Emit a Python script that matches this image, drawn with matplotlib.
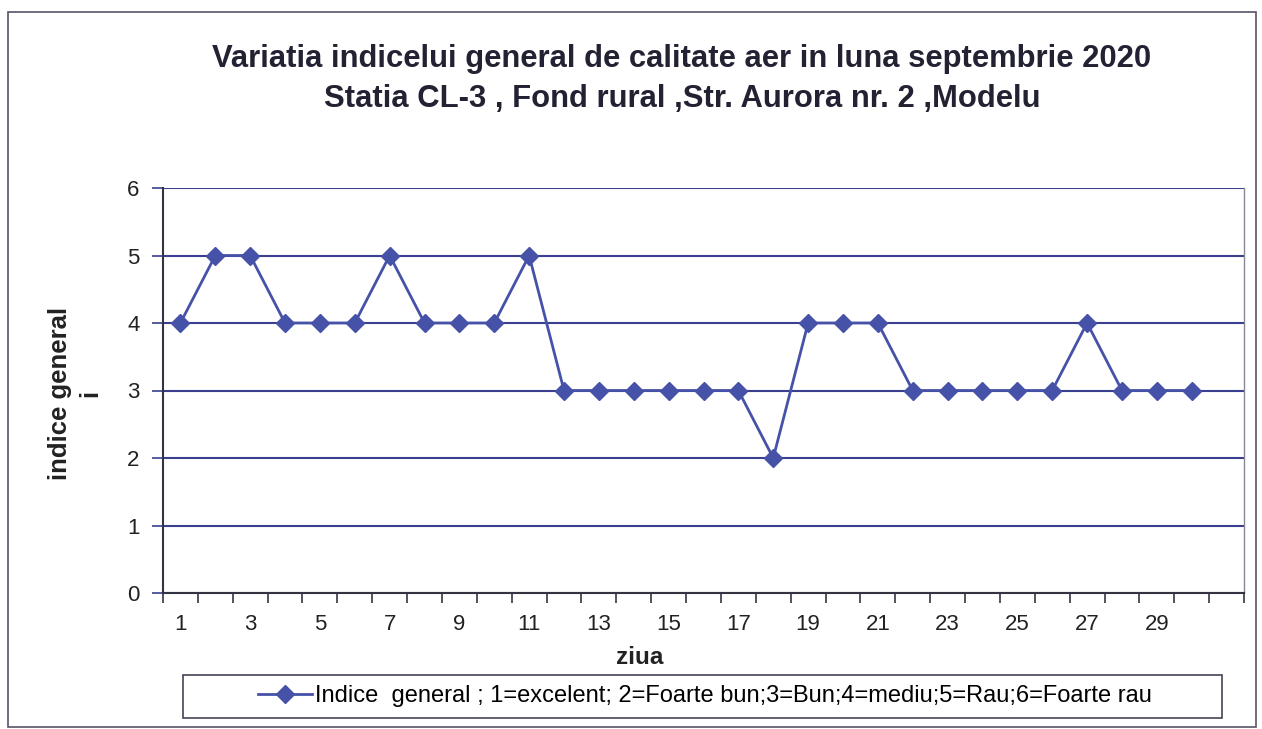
import matplotlib
matplotlib.use("Agg")
import matplotlib.pyplot as plt
from matplotlib.patches import Rectangle

plt.rcParams['font.family'] = ['Liberation Sans', 'DejaVu Sans']

days = list(range(1, 31))
indice = [4, 5, 5, 4, 4, 4, 5, 4, 4, 4, 5, 3, 3, 3, 3, 3, 3, 2, 4, 4, 4, 3, 3, 3, 3, 3, 4, 3, 3, 3]
n_categories = 31
xtick_labels = [str(d) for d in range(1, 30, 2)]
yticks = [0, 1, 2, 3, 4, 5, 6]

title = "Variatia indicelui general de calitate aer in luna septembrie 2020\nStatia CL-3 , Fond rural ,Str. Aurora nr. 2 ,Modelu"
legend_label = "Indice  general ; 1=excelent; 2=Foarte bun;3=Bun;4=mediu;5=Rau;6=Foarte rau"

W, H = 1262, 729
fig = plt.figure(figsize=(W / 100, H / 100), dpi=100)

def fx(px):
    return px / W

def fy(py):
    return 1 - py / H

# outer chart border
fig.patches.append(Rectangle((fx(8), fy(727)), fx(1256) - fx(8), fy(12) - fy(727),
                             transform=fig.transFigure, fill=False, edgecolor='#555566', lw=1.2))

ax = fig.add_axes([fx(163), fy(593), fx(1244) - fx(163), fy(188) - fy(593)])
line_color = '#4652a8'
ax.plot(days, indice, color=line_color, lw=2, marker='D', markersize=9.5, label=legend_label)

ax.set_xlim(0.5, n_categories + 0.5)
ax.set_ylim(0, 6)
ax.set_yticks(yticks)
ax.set_yticklabels([str(v) for v in yticks])
ax.set_xticks([d + 0.5 for d in range(0, n_categories + 1)])
ax.set_xticklabels([])
ax.set_xticks(list(range(1, 30, 2)), minor=True)
ax.set_xticklabels(xtick_labels, minor=True)
ax.tick_params(axis='x', which='major', length=7, width=1.2, color='#333344', direction='out')
ax.tick_params(axis='x', which='minor', length=0, labelsize=16, pad=15, labelcolor='#222222')
ax.tick_params(axis='y', length=8, width=1.2, color='#3a3f90', labelsize=16, pad=9, labelcolor='#222222')

ax.grid(axis='y', color='#3a3f90', lw=1.5)
ax.set_axisbelow(True)
ax.spines['top'].set_visible(False)
ax.spines['right'].set_color('#888899')
ax.spines['right'].set_linewidth(1)
ax.spines['left'].set_color('#333344')
ax.spines['left'].set_linewidth(1.5)
ax.spines['bottom'].set_color('#333344')
ax.spines['bottom'].set_linewidth(1.5)

fig.text(fx(682), fy(79), title, ha='center', va='center', fontsize=22.3, fontweight='bold',
         color='#222233', linespacing=1.45)
fig.text(fx(640), fy(657), "ziua", ha='center', va='center', fontsize=17.5, fontweight='bold', color='#222222')
fig.text(fx(75), fy(393), "indice general\ni", ha='center', va='center', rotation=90, fontsize=18.5,
         fontweight='bold', color='#222222', multialignment='center', linespacing=1.3)

# legend box
fig.patches.append(Rectangle((fx(183), fy(718)), fx(1222) - fx(183), fy(675) - fy(718),
                             transform=fig.transFigure, fill=False, edgecolor='#444455', lw=1.2))
fig.legend(loc='center', bbox_to_anchor=(fx(705), fy(696)), frameon=False, fontsize=17,
           handlelength=2.3, handletextpad=0.15)

fig.savefig("out.png", dpi=100)
